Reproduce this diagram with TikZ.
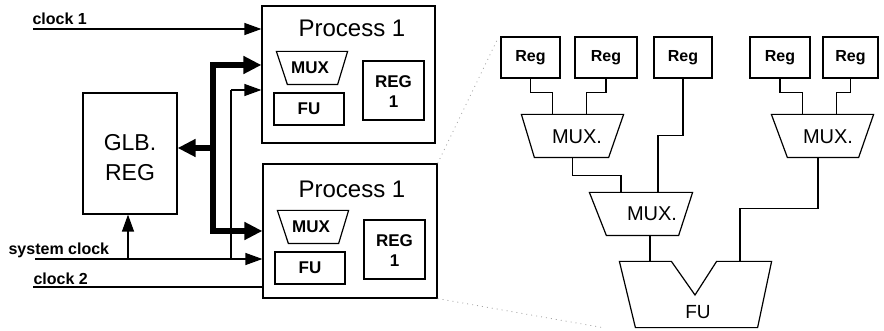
\documentclass[tikz,border=0pt]{standalone}
\usepackage{fontspec}
\setmainfont{Liberation Sans}
\usetikzlibrary{arrows.meta,calc}
\begin{document}
\begin{tikzpicture}[x=1pt,y=-1pt,line width=1.2pt,line join=miter,
  box/.style={draw,rectangle,inner sep=0pt},
  hold/.style={rectangle,inner sep=0pt},
  arr/.style={-{Triangle[length=17pt,width=12pt]}},
  busline/.style={line width=5.5pt},
  bigtxt/.style={inner sep=0pt,font=\fontsize{24}{28}\selectfont},
  glbtxt/.style={inner sep=0pt,align=center,font=\fontsize{23}{30}\selectfont},
  labtxt/.style={inner sep=0pt,font=\bfseries\fontsize{16}{18}\selectfont},
  smalltxt/.style={inner sep=0pt,font=\bfseries\fontsize{17}{20}\selectfont},
  regtxt/.style={inner sep=0pt,align=center,font=\bfseries\fontsize{17}{20}\selectfont},
  rregtxt/.style={inner sep=0pt,font=\bfseries\fontsize{16}{18}\selectfont},
  muxtxt/.style={inner sep=0pt,font=\fontsize{20}{24}\selectfont},
  futxt/.style={inner sep=0pt,font=\fontsize{19}{22}\selectfont},
  zoomline/.style={line width=0.8pt,gray!70,dash pattern=on 1pt off 4pt}
]
\useasboundingbox (0,0) rectangle (884,331);

% ---------------- left part ----------------
\node[box,minimum width=173pt,minimum height=137pt] (p1) at (348.5,74.5) {};
\node[box,minimum width=174pt,minimum height=134pt] (p2) at (350,231) {};

\node[bigtxt] (t1) at (352,28) {Process 1};
\node[bigtxt] (t2) at (352,189) {Process 1};

% process 1 contents
\node[hold,minimum width=70pt,minimum height=32pt] (pm1) at (312,68) {};
\draw (pm1.north west) -- (pm1.north east) -- ([xshift=-10pt]pm1.south east) -- ([xshift=11pt]pm1.south west) -- cycle;
\node[smalltxt] (pm1t) at (310,68) {MUX};
\node[box,minimum width=70pt,minimum height=32pt,smalltxt] (pf1) at (309,109) {FU};
\node[box,minimum width=61pt,minimum height=59pt] (pr1) at (393.5,90.5) {};
\node[regtxt] (pr1t) at (393.5,92) {REG\\1};

% process 2 contents
\node[hold,minimum width=70pt,minimum height=32pt] (pm2) at (313,227) {};
\draw (pm2.north west) -- (pm2.north east) -- ([xshift=-10pt]pm2.south east) -- ([xshift=11pt]pm2.south west) -- cycle;
\node[smalltxt] (pm2t) at (311,227) {MUX};
\node[box,minimum width=70pt,minimum height=32pt,smalltxt] (pf2) at (310,268) {FU};
\node[box,minimum width=61pt,minimum height=59pt] (pr2) at (394.5,249.5) {};
\node[regtxt] (pr2t) at (394.5,251) {REG\\1};

% global register
\node[box,minimum width=94pt,minimum height=121pt] (glb) at (130,153.5) {};
\node[glbtxt] (glbt) at (130,158) {GLB.\\REG};

% labels
\node[labtxt,anchor=base west] (lc1) at (32,25) {clock 1};
\node[labtxt,anchor=base west] (lsc) at (8,255) {system clock};
\node[labtxt,anchor=base west] (lc2) at (33,284) {clock 2};

% coordinates
\coordinate (c1) at (33,29);
\coordinate (sc) at (35,259);
\coordinate (c2) at (33,287);
\coordinate (bt) at (213,65);
\coordinate (bb) at (213,231);
\coordinate (bg) at (213,148);
\coordinate (vt) at (231,90);
\coordinate (vb) at (231,259);
\coordinate (gu) at (128,259);

% clock 1
\draw[arr] (c1) -- (c1 -| p1.west);
% clock 2
\draw (c2) -- (c2 -| p2.west);
% system clock
\draw[arr] (sc) -- (sc -| p2.west);
\draw (vb) -- (vt);
\draw[arr] (vt) -- (vt -| p1.west);
\draw[arr] (gu) -- (gu |- glb.south);

% bus
\draw[busline,{Triangle[length=18pt,width=17pt]}-{Triangle[length=18pt,width=17pt]}]
  (bt -| p1.west) -- (bt) -- (bb) -- (bb -| p2.west);
\draw[busline,-{Triangle[length=18pt,width=17pt]}] (bg) -- (bg -| glb.east);

% ---------------- right part ----------------
\node[box,minimum width=59pt,minimum height=41pt,rregtxt] (r1) at (530.5,57.5) {Reg};
\node[box,minimum width=62pt,minimum height=41pt,rregtxt] (r2) at (606,57.5) {Reg};
\node[box,minimum width=58pt,minimum height=41pt,rregtxt] (r3) at (683,57.5) {Reg};
\node[box,minimum width=60pt,minimum height=41pt,rregtxt] (r4) at (780,57.5) {Reg};
\node[box,minimum width=55pt,minimum height=41pt,rregtxt] (r5) at (850.5,57.5) {Reg};

\node[hold,minimum width=101pt,minimum height=42pt] (m1) at (572.5,136) {};
\draw (m1.north west) -- (m1.north east) -- ([xshift=-15pt]m1.south east) -- ([xshift=13pt]m1.south west) -- cycle;
\node[muxtxt] (m1t) at (577,137) {MUX.};

\node[hold,minimum width=102pt,minimum height=42pt] (m2) at (641,214) {};
\draw (m2.north west) -- (m2.north east) -- ([xshift=-14pt]m2.south east) -- ([xshift=17pt]m2.south west) -- cycle;
\node[muxtxt] (m2t) at (652,214) {MUX.};

\node[hold,minimum width=101pt,minimum height=42pt] (m3) at (822.5,136) {};
\draw (m3.north west) -- (m3.north east) -- ([xshift=-15pt]m3.south east) -- ([xshift=16pt]m3.south west) -- cycle;
\node[muxtxt] (m3t) at (828,137) {MUX.};

\node[hold,minimum width=151pt,minimum height=65pt] (fu) at (695.5,294.5) {};
\draw (fu.north west) -- ([xshift=52pt]fu.north west) -- (695,295) -- ([xshift=-55pt]fu.north east)
  -- (fu.north east) -- ([xshift=-14pt]fu.south east) -- ([xshift=16pt]fu.south west) -- cycle;
\node[futxt] (fut) at (698,312) {FU};

% connectors
\draw (r1.south) -- ++(0,14) -| ([xshift=-20pt]m1.north);
\draw (r2.south) -- ++(0,14) -| ([xshift=14pt]m1.north);
\draw (r4.south) -- ++(0,14) -| ([xshift=-20pt]m3.north);
\draw (r5.south) -- ++(0,14) -| ([xshift=14pt]m3.north);
\draw (r3.south) -- ++(0,57) -| ([xshift=17pt]m2.north);
\draw (m1.south) -- ++(0,18) -| ([xshift=-20pt]m2.north);
\draw ([xshift=9pt]m2.south) -- ([xshift=9pt]m2.south |- fu.north);
\draw ([xshift=-4.5pt]m3.south) -- ++(0,51) -| ([xshift=44.5pt]fu.north);

% zoom indicator
\coordinate (zb) at (605,328);
\draw[zoomline] (p2.north east) -- ([xshift=-3pt,yshift=-3pt]r1.north west);
\draw[zoomline] (p2.south east) -- (zb);
\end{tikzpicture}
\end{document}
